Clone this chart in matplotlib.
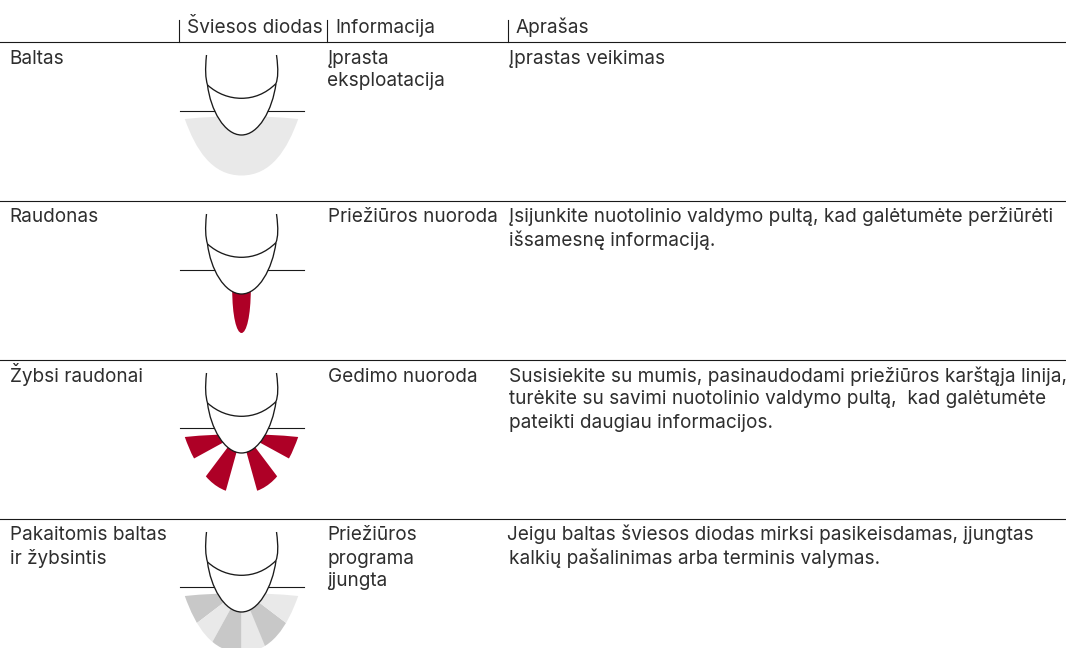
import matplotlib
matplotlib.use('Agg')
import matplotlib.pyplot as plt
from matplotlib.path import Path
from matplotlib.patches import PathPatch, Polygon

plt.rcParams['font.family'] = ['Inter', 'DejaVu Sans']

# Contenu du tableau
headers = ['Šviesos diodas', 'Informacija', 'Aprašas']
colors_label = [['Baltas'], ['Raudonas'], ['Žybsi raudonai'], ['Pakaitomis baltas', 'ir žybsintis']]
information = [['Įprasta', 'eksploatacija'], ['Priežiūros nuoroda'], ['Gedimo nuoroda'],
               ['Priežiūros', 'programa', 'įjungta']]
descriptions = [
    ['Įprastas veikimas'],
    ['Įsijunkite nuotolinio valdymo pultą, kad galėtumėte peržiūrėti', 'išsamesnę informaciją.'],
    ['Susisiekite su mumis, pasinaudodami priežiūros karštąja linija,',
     'turėkite su savimi nuotolinio valdymo pultą,  kad galėtumėte',
     'pateikti daugiau informacijos.'],
    ['Jeigu baltas šviesos diodas mirksi pasikeisdamas, įjungtas',
     'kalkių pašalinimas arba terminis valymas.'],
]

RED = '#ae0026'
LIGHT = '#e9e9e9'
DARK = '#c8c8c8'
INK = '#1a1a1a'
TEXT = '#2e2e2e'
CX = 241.5
ROWS = [42, 201, 360, 519]
FS = 13.65

fig = plt.figure(figsize=(10.66, 6.48), dpi=100)
ax = fig.add_axes([0, 0, 1, 1])
ax.set_xlim(0, 1066)
ax.set_ylim(648, 0)
ax.axis('off')


def curve(top, verts, codes):
    # coordonnees relatives au centre de l'icone et au haut de la ligne
    return Path([(CX + x, top + y) for x, y in verts], codes)


def blob_path(top):
    v = [(-56.7, 77), (-46, 107), (-30, 133.5), (0, 133.5), (30, 133.5), (46, 107), (56.7, 77),
         (0, 71), (-56.7, 77), (-56.7, 77)]
    c = [Path.MOVETO] + [Path.CURVE4] * 6 + [Path.CURVE3, Path.CURVE3, Path.CLOSEPOLY]
    return curve(top, v, c)


def clipped(top, pts, color):
    # un secteur coupe par le contour de la lueur
    poly = Polygon([(CX + x, top + y) for x, y in pts], closed=True, fc=color, ec='none', zorder=1)
    ax.add_patch(poly)
    clip = PathPatch(blob_path(top), transform=ax.transData)
    poly.set_clip_path(clip)


def finger(top, hline):
    ax.plot([179.5, 304], [top + hline, top + hline], color=INK, lw=0.8, zorder=2)
    tip = [(-34, 43), (-31, 68), (-17, 93), (0, 93), (17, 93), (31, 68), (34.5, 41.5)]
    ax.add_patch(PathPatch(curve(top, tip, [Path.MOVETO] + [Path.CURVE4] * 6),
                           fc='white', ec=INK, lw=0.95, zorder=3))
    arc = [(-34, 43), (-24, 52), (-12, 56.3), (0, 56.3), (12, 56.3), (24, 52), (34.5, 41.5)]
    ax.add_patch(PathPatch(curve(top, arc, [Path.MOVETO] + [Path.CURVE4] * 6),
                           fc='none', ec=INK, lw=0.95, zorder=4))
    left = [(-35, 13), (-36.5, 28), (-36, 36), (-34, 43)]
    right = [(35, 13), (37, 28), (36.5, 36), (34.5, 41.5)]
    for side in (left, right):
        ax.add_patch(PathPatch(curve(top, side, [Path.MOVETO] + [Path.CURVE4] * 3),
                               fc='none', ec=INK, lw=0.95, zorder=4))


# Lignes du tableau
for y in ROWS:
    ax.plot([0, 1066], [y, y], color=INK, lw=0.8)
for x in [179, 327, 508]:
    ax.plot([x, x], [20, 42], color=INK, lw=0.8)

# En-tetes
for x, txt in zip([187, 335, 515.5], headers):
    ax.text(x, 33, txt, fontsize=FS, color=TEXT, va='baseline')

# Texte des lignes
desc_x = [[509, 509], [509, 509], [509, 509, 509], [507, 509]]
for i, top in enumerate(ROWS):
    base = top + 21.5
    for j, txt in enumerate(colors_label[i]):
        ax.text(9.5, base + 23 * j, txt, fontsize=FS, color=TEXT, va='baseline')
    for j, txt in enumerate(information[i]):
        ax.text(327.5, base + 23 * j, txt, fontsize=FS, color=TEXT, va='baseline')
    for j, txt in enumerate(descriptions[i]):
        ax.text(desc_x[i][j], base + 23 * j, txt, fontsize=FS, color=TEXT, va='baseline')

# Ligne 1 : blanc
ax.add_patch(PathPatch(blob_path(ROWS[0]), fc=LIGHT, ec='none', zorder=1))
finger(ROWS[0], 69)

# Ligne 2 : rouge
flame = [(-9.3, 88), (-9.3, 115), (-5, 132), (0, 132), (5, 132), (9.3, 115), (9.3, 88), (-9.3, 88)]
ax.add_patch(PathPatch(curve(ROWS[1], flame, [Path.MOVETO] + [Path.CURVE4] * 6 + [Path.CLOSEPOLY]),
                       fc=RED, ec='none', zorder=1))
finger(ROWS[1], 69)

# Ligne 3 : rouge clignotant
rays = [
    [(-75, 77.5), (-10, 72), (-10, 78), (-75, 113.6)],
    [(-8, 79.6), (-2.7, 84), (-21, 150), (-60, 148.7)],
]
for ray in rays:
    clipped(ROWS[2], ray, RED)
    clipped(ROWS[2], [(-x, y) for x, y in ray], RED)
finger(ROWS[2], 68)

# Ligne 4 : segments gris en alternance
segments = [
    ([(0, 70), (-80, 68), (-80, 131)], DARK),
    ([(0, 70), (-80, 131), (-80, 150), (-44, 150)], LIGHT),
    ([(0, 70), (-44, 150), (0, 150)], DARK),
    ([(0, 70), (0, 150), (33, 150)], LIGHT),
    ([(0, 70), (33, 150), (80, 150), (80, 131)], DARK),
    ([(0, 70), (80, 131), (80, 68)], LIGHT),
]
for pts, col in segments:
    clipped(ROWS[3], pts, col)
finger(ROWS[3], 68)

fig.savefig('out.png', dpi=100)
